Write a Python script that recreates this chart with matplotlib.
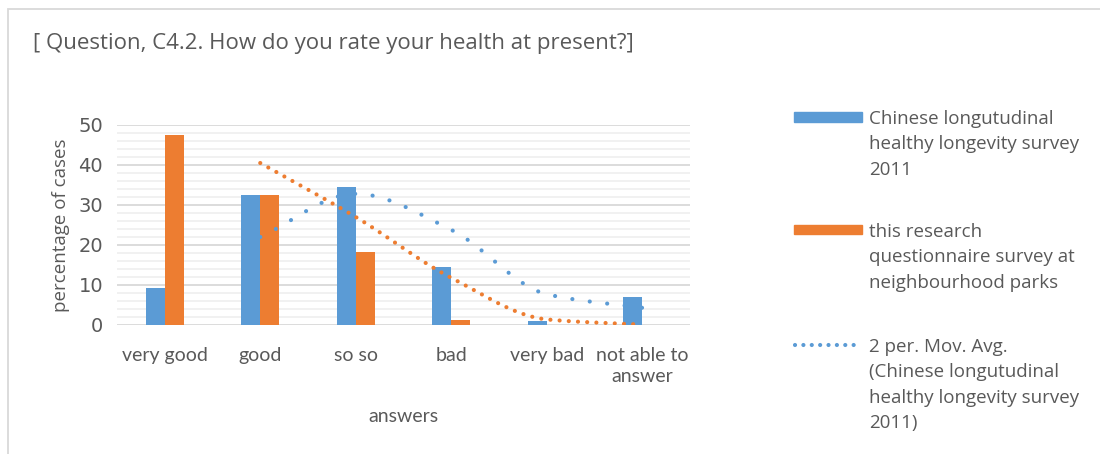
import numpy as np
import matplotlib
matplotlib.use('Agg')
import matplotlib.pyplot as plt
from matplotlib.patches import Rectangle
from matplotlib.lines import Line2D


categories = ['very good', 'good', 'so so', 'bad', 'very bad', 'not able to\nanswer']
chinese_2011 = [9.3, 32.5, 34.6, 14.6, 1.1, 6.9]
this_research = [47.5, 32.5, 18.3, 1.3, 0.0, 0.0]

# 2 period moving averages (start at the 2nd category)
ma_chinese = [22.0, 32.8, 23.8, 7.7, 4.3]
ma_research = [40.5, 27.0, 11.8, 1.4, 0.1]

legend_labels = ['Chinese longutudinal\nhealthy longevity survey\n2011',
                 'this research\nquestionnaire survey at\nneighbourhood parks',
                 '2 per. Mov. Avg.\n(Chinese longutudinal\nhealthy longevity survey\n2011)']

BLUE = '#5b9bd5'
ORANGE = '#ed7d31'
TEXT = '#595959'
W, H = 1100, 454


def smooth(xs, ys, n=200):
    # monotone cubic (like excel smoothed line, without overshoot)
    xs = np.asarray(xs, float)
    ys = np.asarray(ys, float)
    h = np.diff(xs)
    d = np.diff(ys) / h
    m = np.zeros_like(ys)
    m[0], m[-1] = d[0], d[-1]
    for i in range(1, len(ys) - 1):
        if d[i - 1] * d[i] <= 0:
            m[i] = 0
        else:
            m[i] = 2 / (1 / d[i - 1] + 1 / d[i])
    out_x, out_y = [], []
    for i in range(len(xs) - 1):
        t = np.linspace(0, 1, n)
        h00 = 2 * t**3 - 3 * t**2 + 1
        h10 = t**3 - 2 * t**2 + t
        h01 = -2 * t**3 + 3 * t**2
        h11 = t**3 - t**2
        out_x.append(xs[i] + t * h[i])
        out_y.append(h00 * ys[i] + h10 * h[i] * m[i] + h01 * ys[i + 1] + h11 * h[i] * m[i + 1])
    return np.concatenate(out_x), np.concatenate(out_y)


def fx(px):
    return px / W


def fy(py):
    return 1 - py / H


fig = plt.figure(figsize=(11, 4.54), dpi=100)
ax = fig.add_axes([fx(117), fy(325), fx(690) - fx(117), fy(125) - fy(325)])

x = np.arange(len(categories))
ax.bar(x - 0.1, chinese_2011, 0.2, color=BLUE, zorder=3)
ax.bar(x + 0.1, this_research, 0.2, color=ORANGE, zorder=3)

sx, sy = smooth(x[1:], ma_research)
ax.plot(sx, sy, color=ORANGE, lw=3, linestyle=(0, (0.01, 2.2)),
        dash_capstyle='round', zorder=4)
sx, sy = smooth(x[1:], ma_chinese)
ax.plot(sx, sy, color=BLUE, lw=3, linestyle=(0, (0.01, 4.2)),
        dash_capstyle='round', zorder=4)

ax.set_xlim(-0.5, len(categories) - 0.5)
ax.set_ylim(0, 50)
ax.set_yticks(np.arange(0, 51, 10))
ax.set_yticks(np.arange(0, 51, 2), minor=True)
ax.grid(axis='y', which='major', color='#d9d9d9', lw=1.3, zorder=0)
ax.grid(axis='y', which='minor', color='#f0f0f0', lw=1.3, zorder=0)
ax.set_axisbelow(True)
for s in ax.spines.values():
    s.set_visible(False)
ax.tick_params(axis='both', which='both', length=0)
ax.tick_params(axis='y', pad=10, labelcolor=TEXT, labelsize=14)
ax.tick_params(axis='x', pad=16, labelcolor=TEXT)
ax.set_xticks(x)
ax.set_xticklabels(categories, fontfamily='Lato', fontsize=14, linespacing=1.3)
ax.set_ylabel('percentage of cases', fontfamily='Open Sans', fontsize=13.5,
              color=TEXT, labelpad=6)
ax.set_xlabel('answers', fontfamily='Lato', fontsize=14, color=TEXT, labelpad=16)

fig.text(fx(33), fy(44), '[ Question, C4.2. How do you rate your health at present?]',
         fontfamily='Open Sans', fontsize=16, color=TEXT, va='center')

# legend drawn by hand, marker aligned with first text line
line_h = 25.3
entry_y = [117, 230, 345]
for i, (lab, ey) in enumerate(zip(legend_labels, entry_y)):
    if i < 2:
        fig.patches.append(Rectangle((fx(794), fy(ey + 4.5)), fx(862) - fx(794), 9 / H,
                                     transform=fig.transFigure,
                                     color=[BLUE, ORANGE][i]))
    else:
        fig.lines.append(Line2D([fx(795), fx(857)], [fy(ey), fy(ey)],
                                transform=fig.transFigure, color=BLUE, lw=3,
                                linestyle=(0, (0.01, 2.0)), dash_capstyle='round'))
    for j, line in enumerate(lab.split('\n')):
        fig.text(fx(869), fy(ey + j * line_h), line, fontfamily='Open Sans',
                 fontsize=13.5, color=TEXT, va='center_baseline')

fig.patches.append(Rectangle((fx(8), -0.1), 1.2, fy(9.5) + 0.1, transform=fig.transFigure,
                             fill=False, ec='#d9d9d9', lw=1.3))

fig.savefig('out.png', dpi=100)
